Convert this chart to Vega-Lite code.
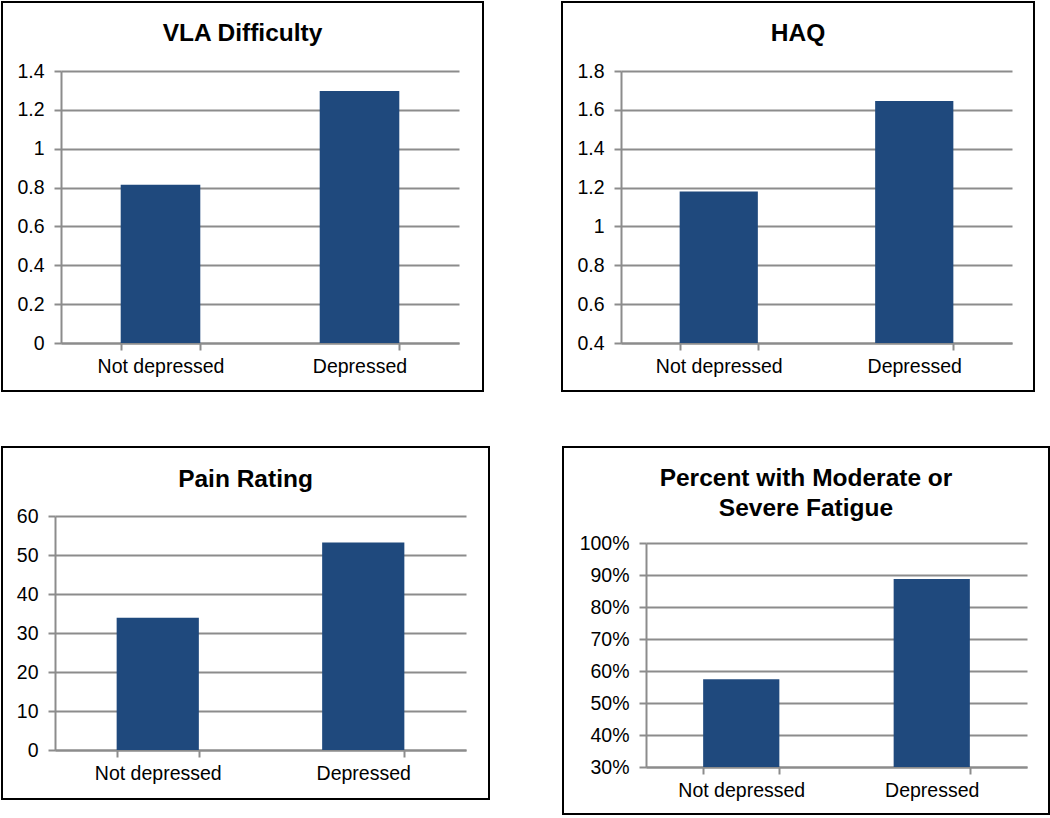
{
  "$schema": "https://vega.github.io/schema/vega-lite/v6.json",
  "background": "white",
  "padding": {"left": 1, "top": 1, "right": 1, "bottom": 1},
  "data": {
    "values": [
      {"panel": "VLA", "group": "Not depressed", "value": 0.815},
      {"panel": "VLA", "group": "Depressed", "value": 1.297},
      {"panel": "HAQ", "group": "Not depressed", "value": 1.18},
      {"panel": "HAQ", "group": "Depressed", "value": 1.646},
      {"panel": "Pain", "group": "Not depressed", "value": 33.9},
      {"panel": "Pain", "group": "Depressed", "value": 53.2},
      {"panel": "Fatigue", "group": "Not depressed", "value": 0.574},
      {"panel": "Fatigue", "group": "Depressed", "value": 0.8875}
    ]
  },
  "spacing": 54,
  "vconcat": [
    {
      "spacing": 77,
      "hconcat": [
        {
          "width": 481,
          "height": 389,
          "title": {"text": "VLA Difficulty", "offset": -44},
          "transform": [{"filter": "datum.panel === 'VLA'"}],
          "mark": {"type": "bar", "color": "#1F497D"},
          "encoding": {
            "x": {"field": "group", "type": "nominal", "sort": ["Not depressed", "Depressed"], "title": null,
              "scale": {"range": [59, 457], "paddingInner": 0.6, "paddingOuter": 0.3},
              "axis": {"offset": -48, "tickBand": "extent"}},
            "y": {"field": "value", "type": "quantitative", "title": null,
              "scale": {"domain": [0, 1.4], "range": [341, 69], "nice": false, "zero": false},
              "axis": {"offset": -59, "values": [0, 0.2, 0.4, 0.6, 0.8, 1, 1.2, 1.4], "format": ".1~f"}}
          }
        },
        {
          "width": 472,
          "height": 389,
          "title": {"text": "HAQ", "offset": -44},
          "transform": [{"filter": "datum.panel === 'HAQ'"}],
          "mark": {"type": "bar", "color": "#1F497D"},
          "encoding": {
            "x": {"field": "group", "type": "nominal", "sort": ["Not depressed", "Depressed"], "title": null,
              "scale": {"range": [59, 450], "paddingInner": 0.6, "paddingOuter": 0.3},
              "axis": {"offset": -48, "tickBand": "extent"}},
            "y": {"field": "value", "type": "quantitative", "title": null,
              "scale": {"domain": [0.4, 1.8], "range": [341, 69], "nice": false, "zero": false},
              "axis": {"offset": -59, "values": [0.4, 0.6, 0.8, 1, 1.2, 1.4, 1.6, 1.8], "format": ".1~f"}},
            "y2": {"datum": 0.4}
          }
        }
      ]
    },
    {
      "spacing": 72,
      "hconcat": [
        {
          "width": 487,
          "height": 352,
          "title": {"text": "Pain Rating", "offset": -45},
          "transform": [{"filter": "datum.panel === 'Pain'"}],
          "mark": {"type": "bar", "color": "#1F497D"},
          "encoding": {
            "x": {"field": "group", "type": "nominal", "sort": ["Not depressed", "Depressed"], "title": null,
              "scale": {"range": [53, 464], "paddingInner": 0.6, "paddingOuter": 0.3},
              "axis": {"offset": -49, "tickBand": "extent"}},
            "y": {"field": "value", "type": "quantitative", "title": null,
              "scale": {"domain": [0, 60], "range": [303, 69], "nice": false, "zero": false},
              "axis": {"offset": -53, "values": [0, 10, 20, 30, 40, 50, 60], "format": "d"}}
          }
        },
        {
          "width": 486,
          "height": 367,
          "title": {"text": ["Percent with Moderate or", "Severe Fatigue"], "offset": -74, "lineHeight": 30},
          "transform": [{"filter": "datum.panel === 'Fatigue'"}],
          "mark": {"type": "bar", "color": "#1F497D"},
          "encoding": {
            "x": {"field": "group", "type": "nominal", "sort": ["Not depressed", "Depressed"], "title": null,
              "scale": {"range": [83, 464], "paddingInner": 0.6, "paddingOuter": 0.3},
              "axis": {"offset": -47, "tickBand": "extent"}},
            "y": {"field": "value", "type": "quantitative", "title": null,
              "scale": {"domain": [0.3, 1.0], "range": [320, 96], "nice": false, "zero": false},
              "axis": {"offset": -83, "values": [0.3, 0.4, 0.5, 0.6, 0.7, 0.8, 0.9, 1.0], "format": ".0%"}},
            "y2": {"datum": 0.3}
          }
        }
      ]
    }
  ],
  "config": {
    "font": "Liberation Sans",
    "view": {"stroke": "#000000", "strokeWidth": 2},
    "axis": {
      "domainColor": "#8c8c8c",
      "domainWidth": 2,
      "tickColor": "#8c8c8c",
      "tickWidth": 2,
      "tickSize": 7,
      "gridColor": "#8c8c8c",
      "gridWidth": 2,
      "gridOpacity": 1,
      "labelFont": "Liberation Sans",
      "labelFontSize": 19.5,
      "labelColor": "#000000"
    },
    "axisX": {"grid": false, "labelAngle": 0, "labelPadding": 7},
    "axisY": {"grid": true, "labelPadding": 10},
    "title": {
      "font": "Liberation Sans",
      "fontSize": 24.5,
      "fontWeight": "bold",
      "color": "#000000",
      "frame": "group",
      "anchor": "middle",
      "baseline": "alphabetic",
      "lineHeight": 28
    }
  }
}
